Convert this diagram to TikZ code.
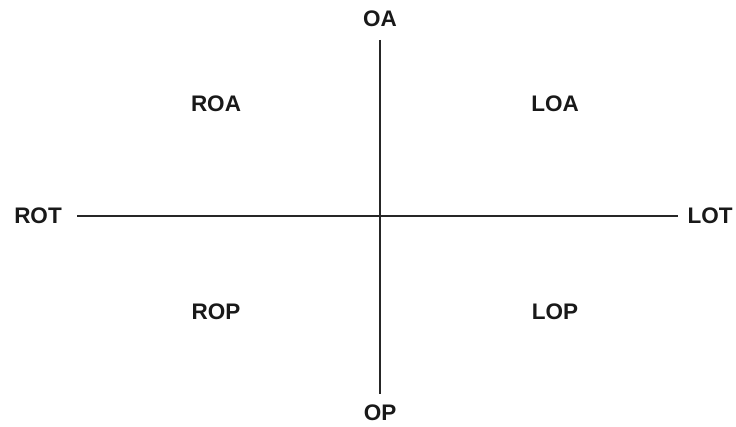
\documentclass[tikz,border=0pt]{standalone}
\usepackage{fontspec}
\setmainfont{Liberation Sans}
\begin{document}
\begin{tikzpicture}[x=1pt,y=-1pt,
  lbl/.style={font=\fontsize{22.5}{27}\selectfont\bfseries, inner sep=0pt, text=black!90},
  axis/.style={line width=1.1pt, black!85}]
\useasboundingbox (0,0) rectangle (736,427);
\coordinate (vt) at (380,40);
\coordinate (vb) at (380,394);
\coordinate (hl) at (77,216);
\coordinate (hr) at (678,216);
\draw[axis] (vt) -- (vb);
\draw[axis] (hl) -- (hr);
\node[lbl] (oa) at (380,19) {OA};
\node[lbl] (op) at (380,413) {OP};
\node[lbl] (rot) at (38,216) {ROT};
\node[lbl] (lot) at (710,216) {LOT};
\node[lbl] (roa) at (216,104) {ROA};
\node[lbl] (loa) at (555,104) {LOA};
\node[lbl] (rop) at (216,312) {ROP};
\node[lbl] (lop) at (555,312) {LOP};
\end{tikzpicture}
\end{document}
